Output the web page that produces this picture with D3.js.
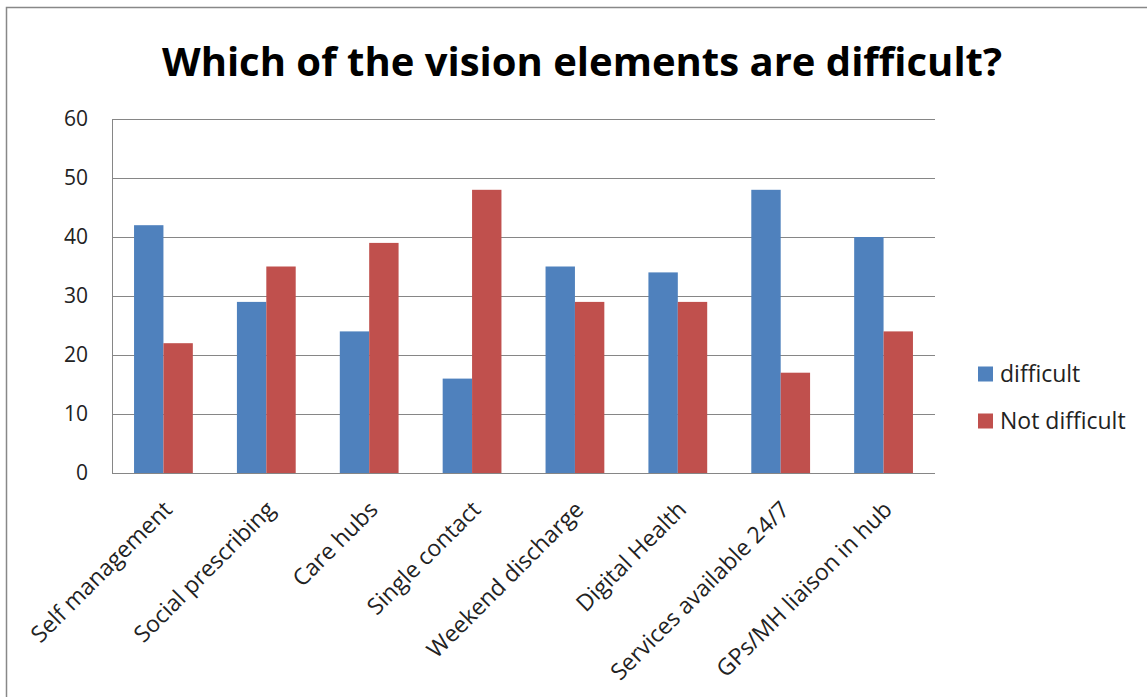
<!DOCTYPE html>
<html><head><meta charset="utf-8">
<script src="https://cdn.jsdelivr.net/npm/d3@7/dist/d3.min.js"></script>
<style>body{margin:0;background:#fff;}svg{display:block;}</style>
</head><body>
<svg id="c" width="1147" height="697"></svg>
<script>
const categories = ["Self management","Social prescribing","Care hubs","Single contact","Weekend discharge","Digital Health","Services available 24/7","GPs/MH liaison in hub"];
const difficult = [42,29,24,16,35,34,48,40];
const notDifficult = [22,35,39,48,29,29,17,24];
const seriesNames = ["difficult","Not difficult"];
const seriesColors = ["#4f81bd","#c0504d"];
const yTicks = [0,10,20,30,40,50,60];
const title = "Which of the vision elements are difficult?";

const svg = d3.select("#c");
const font = "'Open Sans', sans-serif";
// outer frame
svg.append("rect").attr("x",6.5).attr("y",7.5).attr("width",1160).attr("height",720)
  .attr("fill","#fff").attr("stroke","#888").attr("stroke-width",1.5);

const L=112,R=935,T=119,B=473;
const x = d3.scaleBand().domain(categories).range([L,R]).paddingInner(0.4286).paddingOuter(0.2143);
const y = d3.scaleLinear().domain([0,60]).range([B,T]);

// gridlines
svg.append("g").selectAll("line").data(yTicks.filter(d=>d>0)).join("line")
  .attr("x1",L).attr("x2",R).attr("y1",d=>y(d)+0.5).attr("y2",d=>y(d)+0.5)
  .attr("stroke","#868686").attr("stroke-width",1);

const bw = x.bandwidth()/2;
const data = categories.map((c,i)=>({c, vals:[difficult[i],notDifficult[i]]}));
const g = svg.append("g");
data.forEach(d=>{
  d.vals.forEach((v,j)=>{
    g.append("rect").attr("x",x(d.c)+j*bw).attr("width",bw)
      .attr("y",y(v)).attr("height",B-y(v)).attr("fill",seriesColors[j]);
  });
});

// axes lines
svg.append("line").attr("x1",L+0.5).attr("x2",L+0.5).attr("y1",T).attr("y2",B).attr("stroke","#868686");
svg.append("line").attr("x1",L).attr("x2",R).attr("y1",B+0.5).attr("y2",B+0.5).attr("stroke","#868686");

// y labels via axis
const yAxis = d3.axisLeft(y).tickValues(yTicks).tickSize(0).tickPadding(24);
const ya = svg.append("g").attr("transform",`translate(${L},0)`).call(yAxis);
ya.select(".domain").remove();
ya.selectAll("text").attr("font-family",font).attr("font-size",21).attr("fill","#222");

// x labels
const xAxis = d3.axisBottom(x).tickSize(0).tickPadding(0);
const xa = svg.append("g").attr("transform",`translate(0,${B})`).call(xAxis);
xa.select(".domain").remove();
xa.selectAll("text").attr("font-family",font).attr("font-size",23).attr("fill","#222")
  .attr("text-anchor","end").attr("dy",0)
  .attr("transform","translate(10,38) rotate(-45)");

// title
svg.append("text").attr("x",582).attr("y",76).attr("text-anchor","middle")
  .attr("font-family",font).attr("font-weight","bold").attr("font-size",40).attr("fill","#000").text(title);

// legend
const lg = svg.append("g");
seriesNames.forEach((n,i)=>{
  const yy = 374 + i*47;
  lg.append("rect").attr("x",978).attr("y",yy-7.5).attr("width",15).attr("height",15).attr("fill",seriesColors[i]);
  lg.append("text").attr("x",1000).attr("y",yy).attr("dy","0.35em").attr("font-family",font).attr("font-size",23).attr("fill","#222").text(n);
});
</script>
</body></html>
